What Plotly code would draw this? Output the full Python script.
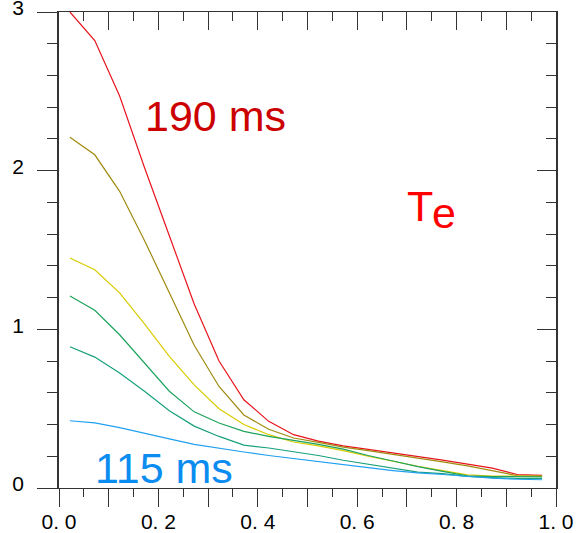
import plotly.graph_objects as go

# radial positions (normalized)
x_pos = [0.022, 0.072, 0.122, 0.172, 0.222, 0.272, 0.322, 0.372, 0.422, 0.472,
         0.522, 0.572, 0.622, 0.672, 0.722, 0.772, 0.822, 0.872, 0.922, 0.972]

# Te profiles, from 190 ms (top) down to 115 ms (bottom)
te_190 = [3.00, 2.82, 2.47, 2.02, 1.59, 1.16, 0.80, 0.556, 0.42, 0.336,
          0.295, 0.265, 0.243, 0.222, 0.200, 0.176, 0.150, 0.125, 0.085, 0.080]
te_olive = [2.21, 2.10, 1.87, 1.56, 1.23, 0.90, 0.64, 0.46, 0.37, 0.315,
            0.287, 0.258, 0.235, 0.213, 0.190, 0.165, 0.140, 0.110, 0.078, 0.075]
te_yellow = [1.45, 1.375, 1.23, 1.035, 0.83, 0.65, 0.50, 0.40, 0.336, 0.29,
             0.265, 0.235, 0.200, 0.168, 0.137, 0.110, 0.083, 0.075, 0.073, 0.073]
te_green1 = [1.21, 1.12, 0.966, 0.79, 0.61, 0.48, 0.41, 0.357, 0.325, 0.30,
             0.275, 0.245, 0.205, 0.170, 0.135, 0.105, 0.076, 0.072, 0.070, 0.070]
te_green2 = [0.89, 0.825, 0.725, 0.61, 0.487, 0.39, 0.325, 0.27, 0.252, 0.228,
             0.205, 0.175, 0.150, 0.125, 0.100, 0.090, 0.073, 0.065, 0.060, 0.060]
te_115 = [0.424, 0.41, 0.38, 0.347, 0.31, 0.275, 0.25, 0.227, 0.205, 0.185,
          0.165, 0.145, 0.128, 0.110, 0.095, 0.085, 0.072, 0.062, 0.055, 0.052]

series = [te_190, te_olive, te_yellow, te_green1, te_green2, te_115]
colors = ["#e8141c", "#a08a10", "#d8cc00", "#1ea35c", "#18a07c", "#22a0f0"]

x_ticks = [0.0, 0.1, 0.2, 0.3, 0.4, 0.5, 0.6, 0.7, 0.8, 0.9, 1.0]
x_ticktext = ["0. 0", "", "0. 2", "", "0. 4", "", "0. 6", "", "0. 8", "", "1. 0"]
y_ticks = [0, 1, 2, 3]
y_ticktext = ["0", "1", "2", "3"]

FONT = "Liberation Sans, Arial, sans-serif"
AX = "#333333"

fig = go.Figure()
for vals, col in zip(series, colors):
    fig.add_trace(go.Scatter(x=x_pos, y=vals, mode="lines",
                             line=dict(color=col, width=1.2),
                             showlegend=False, hoverinfo="skip"))
# empty trace to host the mirror axes
fig.add_trace(go.Scatter(x=[], y=[], xaxis="x2", yaxis="y2", showlegend=False))

fig.update_layout(
    width=576, height=533,
    margin=dict(l=59, r=20, t=12, b=45),
    paper_bgcolor="white", plot_bgcolor="white",
    font=dict(family=FONT, color="black"),
    xaxis=dict(range=[0, 1], showgrid=False, zeroline=False, automargin=False,
               showline=True, linecolor=AX, linewidth=1,
               tickmode="array", tickvals=x_ticks, ticktext=x_ticktext,
               ticks="outside", ticklen=18, tickcolor=AX, tickwidth=1,
               tickfont=dict(size=21, family=FONT), ticklabelstandoff=-3,
               ticklabeloverflow="allow",
               minor=dict(tick0=0, dtick=0.05, ticks="outside", ticklen=8,
                          tickcolor=AX, tickwidth=1)),
    xaxis2=dict(range=[0, 1], overlaying="x", side="top", anchor="y",
                automargin=False,
                showgrid=False, zeroline=False, showline=True,
                linecolor=AX, linewidth=1, showticklabels=False,
                tickmode="array", tickvals=x_ticks,
                ticks="inside", ticklen=18, tickcolor=AX, tickwidth=1,
                minor=dict(tick0=0, dtick=0.05, ticks="inside", ticklen=9,
                           tickcolor=AX, tickwidth=1)),
    yaxis=dict(range=[0, 3], showgrid=False, zeroline=False, automargin=False,
               showline=True, linecolor=AX, linewidth=1.5,
               tickmode="array", tickvals=y_ticks, ticktext=y_ticktext,
               ticks="outside", ticklen=20, tickcolor=AX, tickwidth=1,
               tickfont=dict(size=21, family=FONT), ticklabelstandoff=9,
               ticklabelshift=-4, ticklabeloverflow="allow",
               minor=dict(tick0=0, dtick=0.2, ticks="outside", ticklen=10,
                          tickcolor=AX, tickwidth=1)),
    yaxis2=dict(range=[0, 3], overlaying="y", side="right", anchor="x",
                automargin=False,
                showgrid=False, zeroline=False, showline=True,
                linecolor=AX, linewidth=1.5, showticklabels=False,
                tickmode="array", tickvals=y_ticks,
                ticks="inside", ticklen=19, tickcolor=AX, tickwidth=1,
                minor=dict(tick0=0, dtick=0.2, ticks="inside", ticklen=10,
                           tickcolor=AX, tickwidth=1)),
)

fig.add_annotation(x=0.168, y=2.346, xref="x", yref="y", text="190 ms",
                   showarrow=False, xanchor="left", yanchor="middle",
                   font=dict(size=43, color="#cc0000", family=FONT))
fig.add_annotation(x=0.068, y=0.128, xref="x", yref="y", text="115 ms",
                   showarrow=False, xanchor="left", yanchor="middle",
                   font=dict(size=43, color="#0a8cf0", family=FONT))
fig.add_annotation(x=0.697, y=1.779, xref="x", yref="y", text="T",
                   showarrow=False, xanchor="left", yanchor="middle",
                   font=dict(size=43, color="#ff0000", family=FONT))
fig.add_annotation(x=0.747, y=1.732, xref="x", yref="y", text="e",
                   showarrow=False, xanchor="left", yanchor="middle",
                   font=dict(size=43, color="#ff0000", family=FONT))

fig.write_html("out.html",
               config={"displayModeBar": False},
               post_script="document.body.style.margin='0';"
                           "document.body.style.overflow='hidden';")
